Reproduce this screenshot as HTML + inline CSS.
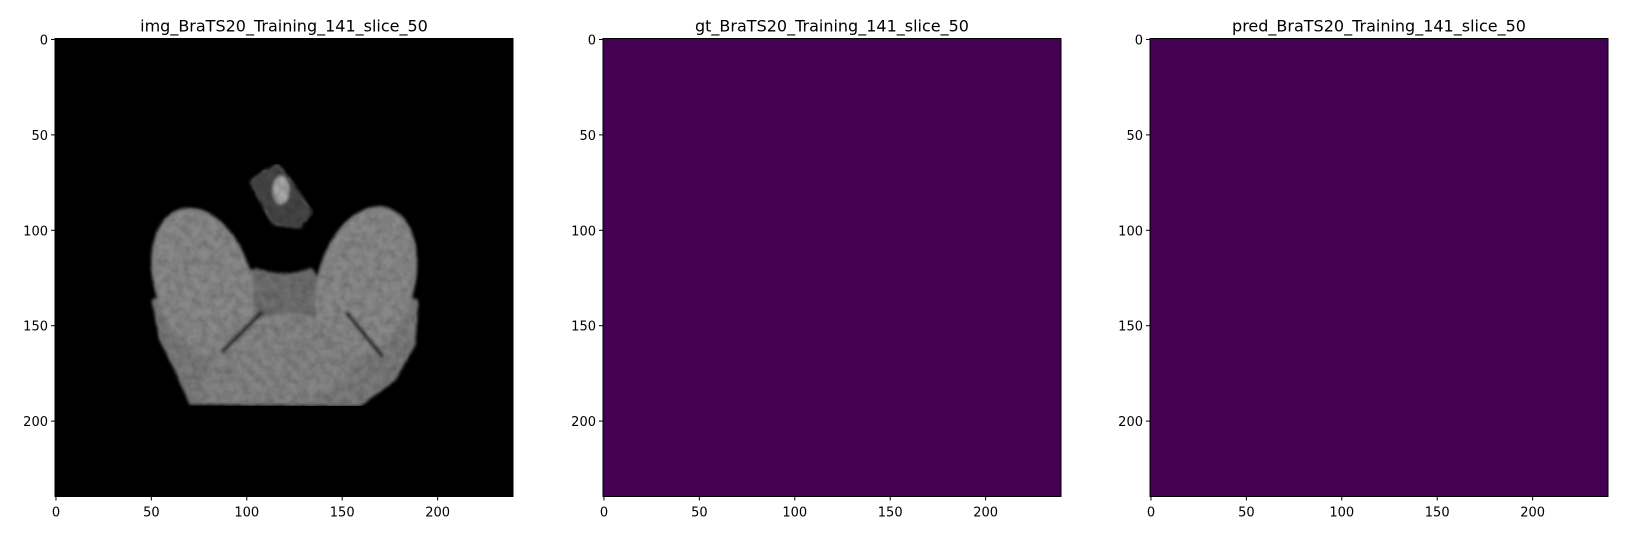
<!DOCTYPE html>
<html><head><meta charset="utf-8"><style>
body{margin:0;background:#fff;width:1626px;height:539px;overflow:hidden;font-family:"Liberation Sans","DejaVu Sans",sans-serif}
svg text{font-family:"DejaVu Sans","Liberation Sans",sans-serif}
</style></head><body>
<svg id="fig" width="1626" height="539" xmlns="http://www.w3.org/2000/svg">
<defs>
<filter id="noise" x="0" y="0" width="100%" height="100%">
<feTurbulence type="fractalNoise" baseFrequency="0.12" numOctaves="2" seed="3" result="n"/>
<feColorMatrix in="n" type="matrix" values="0 0 0 0 0.5  0 0 0 0 0.5  0 0 0 0 0.5  0 0 0 1.2 -0.35" result="g"/>
<feComposite in="g" in2="SourceGraphic" operator="in" result="m"/>
<feBlend in="SourceGraphic" in2="m" mode="multiply"/>
</filter>
<filter id="soft"><feGaussianBlur stdDeviation="1.5"/></filter>
</defs>
</svg>
<script>
const panelTitles = ["img_BraTS20_Training_141_slice_50","gt_BraTS20_Training_141_slice_50","pred_BraTS20_Training_141_slice_50"];
const panelFills = ["#000000","#440154","#440154"];
const xTicks = [0,50,100,150,200];
const yTicks = [0,50,100,150,200];
const panelLefts = [55,603,1150];
const top0 = 38.5, size = 458, nPix = 240;
const svg = document.getElementById('fig');
const NS = "http://www.w3.org/2000/svg";
function mk(tag, attrs, parent){const e=document.createElementNS(NS,tag);for(const k in attrs)e.setAttribute(k,attrs[k]);(parent||svg).appendChild(e);return e;}
const sc = size/nPix;
panelTitles.forEach((t,i)=>{
  const L = panelLefts[i];
  const xs = u => L + (u+0.5)*sc;
  const ys = u => top0 + (u+0.5)*sc;
  const g = mk('g',{});
  
  
  const r = mk('rect',{x:L,y:top0,width:size,height:size,fill:panelFills[i]},g);
  
  
  if(i===0){
    const b = mk('g',{filter:'url(#noise)'},g);
    
    
    const bg = mk('g',{filter:'url(#soft)'},b);
    mk('path',{d:'M152,300 L160,340 L175,370 L190,404 L360,406 L395,380 L415,345 L418,300 L330,280 L250,270 Z',fill:'#7a7a7a'},bg);
    mk('path',{d:'M255,268 Q282,280 312,268 L330,300 L335,330 L240,330 L245,300 Z',fill:'#6e6e6e'},bg);
    mk('ellipse',{cx:203,cy:282,rx:48,ry:76,fill:'#888',transform:'rotate(-18 203 282)'},bg);
    mk('ellipse',{cx:366,cy:282,rx:48,ry:77,fill:'#888',transform:'rotate(16 366 282)'},bg);
    mk('path',{d:'M215,340 Q240,300 255,330 L260,404 L200,404 Z',fill:'#838383'},bg);
    mk('ellipse',{cx:290,cy:358,rx:62,ry:45,fill:'#848484'},bg);
    mk('path',{d:'M222,352 L262,312 M346,312 L383,357',stroke:'#1a1a1a',"stroke-width":4,fill:'none'},bg);
    mk('path',{d:'M250,182 L262,172 L278,164 L292,182 L312,212 L300,228 L272,224 Z',fill:'#444'},bg);
    mk('ellipse',{cx:281,cy:190,rx:8,ry:14,fill:'#aaa'},bg);
  }
  mk('path',{d:'M'+L+','+top0+'h'+size+'v'+size+'h-'+size+'z',fill:'none',stroke:'#000','stroke-width':1},g);
  const tt = mk('text',{x:L+size/2,y:top0-7,'text-anchor':'middle','font-size':16,fill:'#000'},g);
  tt.textContent = t;
  
  
  xTicks.forEach(v=>{
    const x = xs(v);
    mk('line',{x1:x,x2:x,y1:top0+size,y2:top0+size+4,stroke:'#000'},g);
    const tx = mk('text',{x:x,y:top0+size+20,'text-anchor':'middle','font-size':13},g);
    tx.textContent = v;
    
    
  });
  yTicks.forEach(v=>{
    const y = ys(v);
    mk('line',{x1:L-4,x2:L,y1:y,y2:y,stroke:'#000'},g);
    const ty = mk('text',{x:L-7,y:y+5,'text-anchor':'end','font-size':13},g);
    ty.textContent = v;
    
    
  });
});
</script>
</body></html>
